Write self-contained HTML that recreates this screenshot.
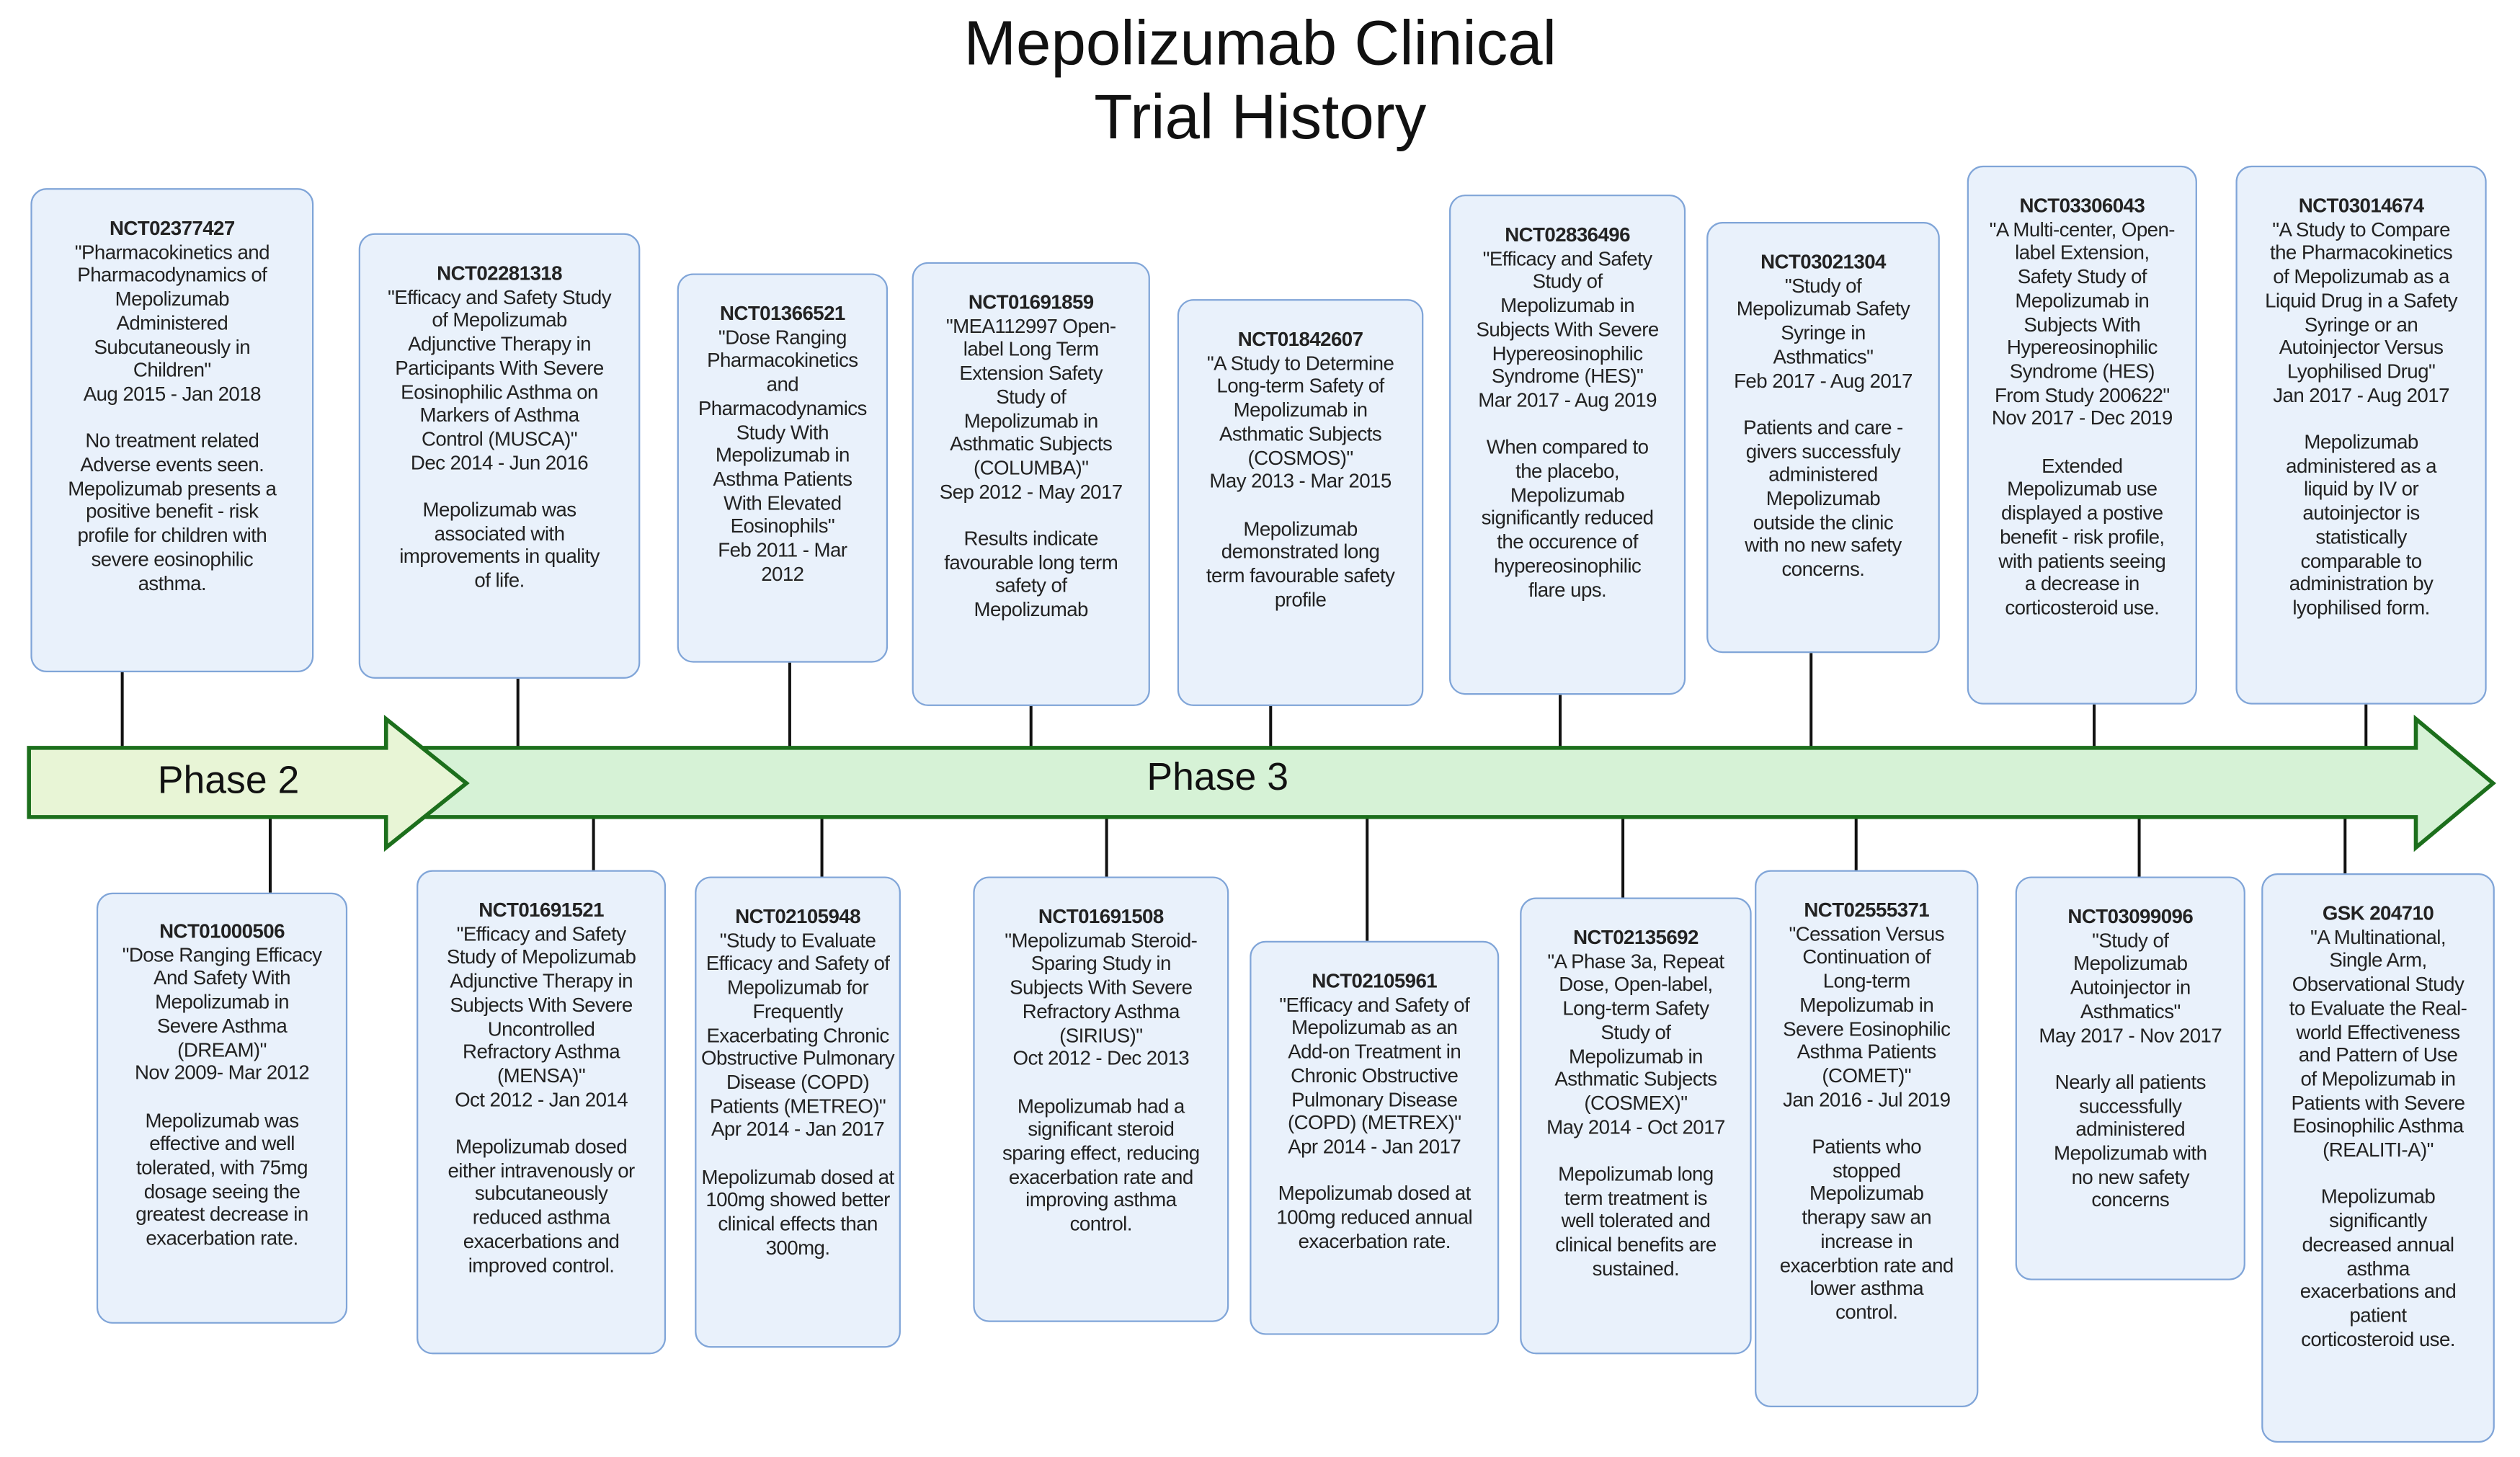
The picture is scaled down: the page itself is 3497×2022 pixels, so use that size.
<!DOCTYPE html>
<html><head><meta charset="utf-8"><style>
html,body{margin:0;padding:0;background:#fff;}
body{width:3497px;height:2022px;overflow:hidden;position:relative;}
#c{position:absolute;left:0;top:0;width:1567px;height:906px;transform:scale(2.232);transform-origin:0 0;font-family:"Liberation Sans",Arial,sans-serif;color:#222;}
.b{position:absolute;box-sizing:border-box;background:#e9f1fb;border:1.6px solid #80a5d8;border-radius:10px;text-align:center;font-size:12.4px;line-height:14.7px;white-space:nowrap;letter-spacing:-0.25px;padding-top:17px;}
.b b{font-weight:bold;}
.t{position:absolute;left:0;width:1567px;text-align:center;font-size:39px;line-height:46px;top:5px;color:#111;}
.ph{position:absolute;font-size:24px;color:#111;}
svg{position:absolute;left:0;top:0;}
</style></head><body><div id="c">
<div class="t">Mepolizumab Clinical<br>Trial History</div>
<svg width="1567" height="906" viewBox="0 0 1567 906">
<g stroke="#111" stroke-width="1.8">
<line x1="76" y1="418" x2="76" y2="466"/><line x1="322" y1="422" x2="322" y2="466"/><line x1="491" y1="412" x2="491" y2="466"/><line x1="641" y1="439" x2="641" y2="466"/><line x1="790" y1="439" x2="790" y2="466"/><line x1="970" y1="432" x2="970" y2="466"/><line x1="1126" y1="406" x2="1126" y2="466"/><line x1="1302" y1="438" x2="1302" y2="466"/><line x1="1471" y1="438" x2="1471" y2="466"/>
<line x1="168" y1="507" x2="168" y2="555"/><line x1="369" y1="507" x2="369" y2="541"/><line x1="511" y1="507" x2="511" y2="545"/><line x1="688" y1="507" x2="688" y2="545"/><line x1="850" y1="507" x2="850" y2="585"/><line x1="1009" y1="507" x2="1009" y2="558"/><line x1="1154" y1="507" x2="1154" y2="541"/><line x1="1330" y1="507" x2="1330" y2="545"/><line x1="1458" y1="507" x2="1458" y2="543"/>
</g>
<polygon points="240,465 1502,465 1502,447 1550,487 1502,527 1502,508 240,508" fill="#d6f2d6" stroke="#1c6f1c" stroke-width="2.5" stroke-linejoin="miter"/>
<polygon points="18,465 240,465 240,447 290,487 240,527 240,508 18,508" fill="#e8f5d6" stroke="#1c6f1c" stroke-width="2.5"/>
</svg>
<div class="ph" style="left:98px;top:472px;">Phase 2</div>
<div class="ph" style="left:713px;top:470px;">Phase 3</div>

<div class="b" style="left:19px;top:117px;width:176px;height:301px;"><b>NCT02377427</b><br>"Pharmacokinetics and<br>Pharmacodynamics of<br>Mepolizumab<br>Administered<br>Subcutaneously in<br>Children"<br>Aug 2015 - Jan 2018<br><br>No treatment related<br>Adverse events seen.<br>Mepolizumab presents a<br>positive benefit - risk<br>profile for children with<br>severe eosinophilic<br>asthma.</div>
<div class="b" style="left:223px;top:145px;width:175px;height:277px;"><b>NCT02281318</b><br>"Efficacy and Safety Study<br>of Mepolizumab<br>Adjunctive Therapy in<br>Participants With Severe<br>Eosinophilic Asthma on<br>Markers of Asthma<br>Control (MUSCA)"<br>Dec 2014 - Jun 2016<br><br>Mepolizumab was<br>associated with<br>improvements in quality<br>of life.</div>
<div class="b" style="left:421px;top:170px;width:131px;height:242px;"><b>NCT01366521</b><br>"Dose Ranging<br>Pharmacokinetics<br>and<br>Pharmacodynamics<br>Study With<br>Mepolizumab in<br>Asthma Patients<br>With Elevated<br>Eosinophils"<br>Feb 2011 - Mar<br>2012</div>
<div class="b" style="left:567px;top:163px;width:148px;height:276px;"><b>NCT01691859</b><br>"MEA112997 Open-<br>label Long Term<br>Extension Safety<br>Study of<br>Mepolizumab in<br>Asthmatic Subjects<br>(COLUMBA)"<br>Sep 2012 - May 2017<br><br>Results indicate<br>favourable long term<br>safety of<br>Mepolizumab</div>
<div class="b" style="left:732px;top:186px;width:153px;height:253px;"><b>NCT01842607</b><br>"A Study to Determine<br>Long-term Safety of<br>Mepolizumab in<br>Asthmatic Subjects<br>(COSMOS)"<br>May 2013 - Mar 2015<br><br>Mepolizumab<br>demonstrated long<br>term favourable safety<br>profile</div>
<div class="b" style="left:901px;top:121px;width:147px;height:311px;"><b>NCT02836496</b><br>"Efficacy and Safety<br>Study of<br>Mepolizumab in<br>Subjects With Severe<br>Hypereosinophilic<br>Syndrome (HES)"<br>Mar 2017 - Aug 2019<br><br>When compared to<br>the placebo,<br>Mepolizumab<br>significantly reduced<br>the occurence of<br>hypereosinophilic<br>flare ups.</div>
<div class="b" style="left:1061px;top:138px;width:145px;height:268px;"><b>NCT03021304</b><br>"Study of<br>Mepolizumab Safety<br>Syringe in<br>Asthmatics"<br>Feb 2017 - Aug 2017<br><br>Patients and care -<br>givers successfuly<br>administered<br>Mepolizumab<br>outside the clinic<br>with no new safety<br>concerns.</div>
<div class="b" style="left:1223px;top:103px;width:143px;height:335px;"><b>NCT03306043</b><br>"A Multi-center, Open-<br>label Extension,<br>Safety Study of<br>Mepolizumab in<br>Subjects With<br>Hypereosinophilic<br>Syndrome (HES)<br>From Study 200622"<br>Nov 2017 - Dec 2019<br><br>Extended<br>Mepolizumab use<br>displayed a postive<br>benefit - risk profile,<br>with patients seeing<br>a decrease in<br>corticosteroid use.</div>
<div class="b" style="left:1390px;top:103px;width:156px;height:335px;"><b>NCT03014674</b><br>"A Study to Compare<br>the Pharmacokinetics<br>of Mepolizumab as a<br>Liquid Drug in a Safety<br>Syringe or an<br>Autoinjector Versus<br>Lyophilised Drug"<br>Jan 2017 - Aug 2017<br><br>Mepolizumab<br>administered as a<br>liquid by IV or<br>autoinjector is<br>statistically<br>comparable to<br>administration by<br>lyophilised form.</div>

<div class="b" style="left:60px;top:555px;width:156px;height:268px;padding-top:16px;"><b>NCT01000506</b><br>"Dose Ranging Efficacy<br>And Safety With<br>Mepolizumab in<br>Severe Asthma<br>(DREAM)"<br>Nov 2009- Mar 2012<br><br>Mepolizumab was<br>effective and well<br>tolerated, with 75mg<br>dosage seeing the<br>greatest decrease in<br>exacerbation rate.</div>
<div class="b" style="left:259px;top:541px;width:155px;height:301px;"><b>NCT01691521</b><br>"Efficacy and Safety<br>Study of Mepolizumab<br>Adjunctive Therapy in<br>Subjects With Severe<br>Uncontrolled<br>Refractory Asthma<br>(MENSA)"<br>Oct 2012 - Jan 2014<br><br>Mepolizumab dosed<br>either intravenously or<br>subcutaneously<br>reduced asthma<br>exacerbations and<br>improved control.</div>
<div class="b" style="left:432px;top:545px;width:128px;height:293px;"><b>NCT02105948</b><br>"Study to Evaluate<br>Efficacy and Safety of<br>Mepolizumab for<br>Frequently<br>Exacerbating Chronic<br>Obstructive Pulmonary<br>Disease (COPD)<br>Patients (METREO)"<br>Apr 2014 - Jan 2017<br><br>Mepolizumab dosed at<br>100mg showed better<br>clinical effects than<br>300mg.</div>
<div class="b" style="left:605px;top:545px;width:159px;height:277px;"><b>NCT01691508</b><br>"Mepolizumab Steroid-<br>Sparing Study in<br>Subjects With Severe<br>Refractory Asthma<br>(SIRIUS)"<br>Oct 2012 - Dec 2013<br><br>Mepolizumab had a<br>significant steroid<br>sparing effect, reducing<br>exacerbation rate and<br>improving asthma<br>control.</div>
<div class="b" style="left:777px;top:585px;width:155px;height:245px;"><b>NCT02105961</b><br>"Efficacy and Safety of<br>Mepolizumab as an<br>Add-on Treatment in<br>Chronic Obstructive<br>Pulmonary Disease<br>(COPD) (METREX)"<br>Apr 2014 - Jan 2017<br><br>Mepolizumab dosed at<br>100mg reduced annual<br>exacerbation rate.</div>
<div class="b" style="left:945px;top:558px;width:144px;height:284px;"><b>NCT02135692</b><br>"A Phase 3a, Repeat<br>Dose, Open-label,<br>Long-term Safety<br>Study of<br>Mepolizumab in<br>Asthmatic Subjects<br>(COSMEX)"<br>May 2014 - Oct 2017<br><br>Mepolizumab long<br>term treatment is<br>well tolerated and<br>clinical benefits are<br>sustained.</div>
<div class="b" style="left:1091px;top:541px;width:139px;height:334px;"><b>NCT02555371</b><br>"Cessation Versus<br>Continuation of<br>Long-term<br>Mepolizumab in<br>Severe Eosinophilic<br>Asthma Patients<br>(COMET)"<br>Jan 2016 - Jul 2019<br><br>Patients who<br>stopped<br>Mepolizumab<br>therapy saw an<br>increase in<br>exacerbtion rate and<br>lower asthma<br>control.</div>
<div class="b" style="left:1253px;top:545px;width:143px;height:251px;"><b>NCT03099096</b><br>"Study of<br>Mepolizumab<br>Autoinjector in<br>Asthmatics"<br>May 2017 - Nov 2017<br><br>Nearly all patients<br>successfully<br>administered<br>Mepolizumab with<br>no new safety<br>concerns</div>
<div class="b" style="left:1406px;top:543px;width:145px;height:354px;"><b>GSK 204710</b><br>"A Multinational,<br>Single Arm,<br>Observational Study<br>to Evaluate the Real-<br>world Effectiveness<br>and Pattern of Use<br>of Mepolizumab in<br>Patients with Severe<br>Eosinophilic Asthma<br>(REALITI-A)"<br><br>Mepolizumab<br>significantly<br>decreased annual<br>asthma<br>exacerbations and<br>patient<br>corticosteroid use.</div>
</div></body></html>
